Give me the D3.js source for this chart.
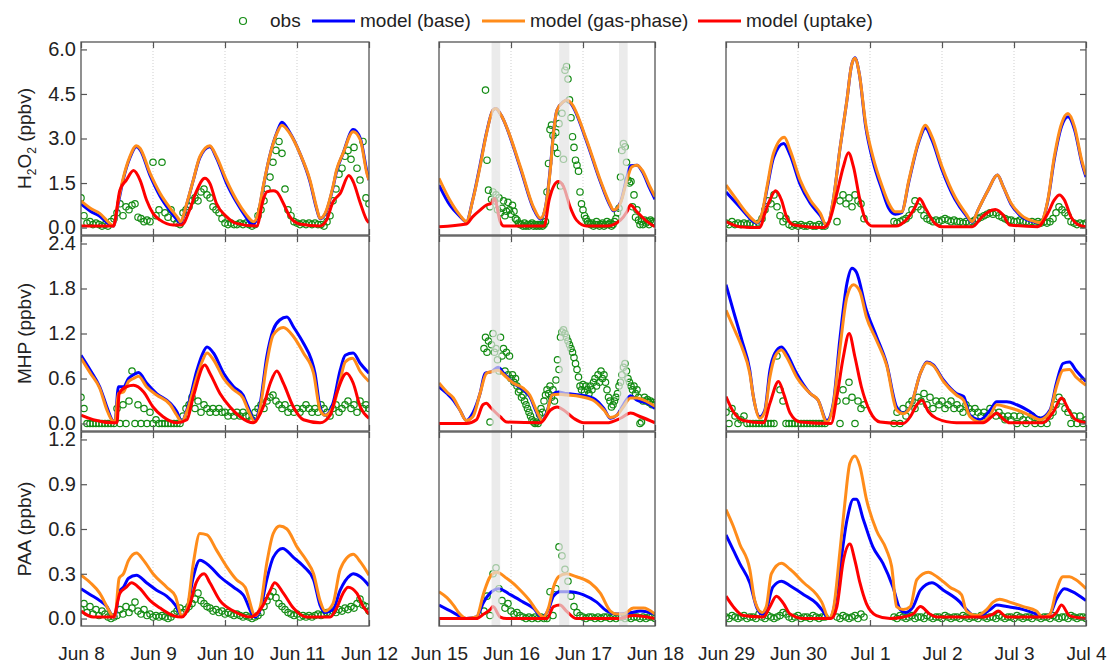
<!DOCTYPE html>
<html lang="en">
<head>
<meta charset="UTF-8">
<title>peroxides</title>
<script src="https://cdn.jsdelivr.net/npm/d3@7"></script>
<style>
	body { margin: 0; background: #fff; }
	text { font-family: Arial, "Liberation Sans", sans-serif; fill: #222; }
	.frame { fill: none; stroke: #555; stroke-width: 1.3px; }
	.grid line { stroke: #cfcfcf; stroke-dasharray: 1,2; }
	.axis line { stroke: #555; stroke-width: 1.2px; }
	.obs { fill: none; stroke: #148c14; stroke-width: 1.2px; }
	.model { fill: none; stroke-width: 3px; stroke-linejoin: round; }
</style>
</head>
<body>
<svg id="chart" width="1109" height="666"></svg>
<script>
// time is day-of-June (Jul 1 = 31); obs run from the first day of each window at a fixed step

const hour = 1 / 24, halfHour = 1 / 48;

const days_jun8 = [8, 9, 10, 11, 12];
const days_jun15 = [15, 16, 17, 18];
const days_jun29 = [29, 30, 31, 32, 33, 34];
const labels_jun8 = ["Jun 8", "Jun 9", "Jun 10", "Jun 11", "Jun 12"];
const labels_jun15 = ["Jun 15", "Jun 16", "Jun 17", "Jun 18"];
const labels_jun29 = ["Jun 29", "Jun 30", "Jul 1", "Jul 2", "Jul 3", "Jul 4"];

const h2o2Ticks = [0, 1.5, 3, 4.5, 6];
const mhpTicks = [0, 0.6, 1.2, 1.8, 2.4];
const paaTicks = [0, 0.3, 0.6, 0.9, 1.2];

const shadeBands = [[15.73, 15.85], [16.67, 16.81], [17.5, 17.62]];

// ---------- H2O2 ----------
const h2o2_base_jun8 = [[8.0,0.8],[8.13,0.55],[8.26,0.38],[8.4,0.1],[8.45,0.05],[8.52,0.85],[8.59,1.65],[8.68,2.35],[8.77,2.72],[8.82,2.62],[8.96,1.75],[9.1,1.05],[9.24,0.55],[9.35,0.22],[9.38,0.15],[9.47,0.8],[9.56,1.6],[9.65,2.35],[9.79,2.72],[9.88,2.35],[10.02,1.5],[10.16,0.85],[10.3,0.32],[10.37,0.1],[10.4,0.12],[10.46,0.45],[10.53,1.35],[10.62,2.4],[10.72,3.2],[10.79,3.55],[10.9,3.2],[11.04,2.5],[11.18,1.55],[11.27,0.65],[11.32,0.3],[11.39,0.45],[11.5,1.35],[11.55,1.9],[11.64,2.5],[11.78,3.3],[11.88,3.0],[11.97,1.9],[12.0,1.6]];
const h2o2_gas_jun8 = [[8.0,0.9],[8.13,0.65],[8.26,0.48],[8.4,0.14],[8.45,0.05],[8.52,0.93],[8.59,1.7],[8.68,2.4],[8.77,2.76],[8.82,2.67],[8.96,1.83],[9.1,1.15],[9.24,0.65],[9.35,0.31],[9.38,0.2],[9.47,0.82],[9.56,1.6],[9.65,2.39],[9.79,2.76],[9.88,2.4],[10.02,1.6],[10.16,0.93],[10.3,0.42],[10.37,0.23],[10.4,0.2],[10.46,0.48],[10.53,1.38],[10.62,2.39],[10.72,3.17],[10.79,3.45],[10.9,3.17],[11.04,2.5],[11.18,1.6],[11.27,0.7],[11.32,0.31],[11.39,0.48],[11.5,1.38],[11.55,1.94],[11.64,2.5],[11.78,3.23],[11.88,2.95],[11.97,1.83],[12.0,1.6]];
const h2o2_uptake_jun8 = [[8.0,0.05],[8.45,0.05],[8.54,1.26],[8.63,1.6],[8.73,1.92],[8.82,1.6],[8.91,0.93],[9.0,0.48],[9.1,0.25],[9.28,0.09],[9.4,0.09],[9.51,0.6],[9.6,1.2],[9.72,1.66],[9.79,1.49],[9.88,0.82],[10.02,0.37],[10.16,0.14],[10.44,0.05],[10.53,0.93],[10.58,1.2],[10.67,1.24],[10.72,1.2],[10.81,0.82],[10.9,0.37],[11.04,0.12],[11.32,0.05],[11.41,0.25],[11.5,0.87],[11.6,1.15],[11.72,1.75],[11.78,1.55],[11.88,0.82],[11.97,0.25],[12.0,0.16]];
const h2o2_obs_jun8 = [1.0,0.4,0.15,0.2,0.1,0.15, 0.1,0.05,0.1,0.05,0.2,0.3, 0.5,0.8,0.4,0.7,0.6,0.75, 0.8,0.35,0.3,0.2,0.25,0.2, 2.2,0.4,0.6,2.2,0.5,0.35, 0.6,0.3,0.15,0.1,0.5,0.6, 0.7,0.9,1.0,0.9,1.2,1.3, 1.1,1.0,0.7,0.6,0.5,0.3, 0.15,0.1,0.15,0.1,0.1,0.15, 0.1,0.15,0.1,0.05,0.1,0.4, 0.6,0.9,1.3,1.7,2.2,2.6, 2.9,2.5,1.3,0.6,0.4,0.2, 0.15,0.1,0.15,0.1,0.15,0.1, 0.15,0.1,0.1,0.05,0.2,0.4, 0.9,1.3,1.8,2.0,2.4,2.6, 2.3,2.7,2.0,1.6,2.9,1.0, 0.8];

const h2o2_base_jun15 = [[15.0,1.43],[15.15,0.76],[15.29,0.38],[15.38,0.2],[15.47,0.95],[15.57,2.1],[15.66,3.2],[15.75,3.96],[15.79,4.01],[15.85,3.84],[16.13,2.0],[16.31,0.65],[16.41,0.28],[16.48,0.7],[16.55,2.1],[16.59,3.2],[16.64,3.96],[16.73,4.24],[16.77,4.3],[16.84,4.15],[17.05,2.9],[17.24,1.55],[17.38,0.72],[17.42,0.57],[17.52,0.85],[17.61,1.7],[17.66,2.08],[17.75,2.1],[17.82,1.9],[17.93,1.3],[18.0,0.95]];
const h2o2_gas_jun15 = [[15.0,1.66],[15.15,0.93],[15.29,0.42],[15.38,0.2],[15.47,0.93],[15.57,2.05],[15.66,3.17],[15.75,3.96],[15.79,4.01],[15.85,3.84],[16.13,2.05],[16.31,0.7],[16.41,0.31],[16.48,0.7],[16.55,2.05],[16.59,3.17],[16.64,3.96],[16.73,4.24],[16.77,4.3],[16.84,4.18],[17.05,2.95],[17.24,1.6],[17.38,0.76],[17.42,0.59],[17.52,0.82],[17.61,1.6],[17.68,2.05],[17.75,2.1],[17.82,1.94],[17.93,1.38],[18.0,1.04]];
const h2o2_uptake_jun15 = [[15.0,0.03],[15.38,0.12],[15.47,0.37],[15.57,0.59],[15.66,0.76],[15.73,0.82],[15.77,0.98],[15.85,0.2],[15.9,0.05],[16.46,0.05],[16.53,0.93],[16.59,1.38],[16.66,1.55],[16.73,1.38],[16.82,0.7],[16.91,0.25],[17.05,0.05],[17.33,0.05],[17.52,0.25],[17.61,0.53],[17.66,0.76],[17.75,0.53],[17.89,0.2],[18.0,0.03]];
// half-hourly
const h2o2_obs_jun15 = [null,null,null,null,null,null,null,null,null,null, null,null,null,null,null,null,null,null,null,null, null,null,null,null,null,null,null,null,null,null, null,
	4.63,2.27,1.26,0.7,0.95,1.2,0.9,1.1,0.6,1.0,0.5,0.65,0.9,0.4,0.55,0.85,0.6,0.45,0.75,0.55,0.3,0.25,0.15,0.1,
	0.1,0.05,0.15,0.05,0.1,0.05,0.1,0.15,0.05,0.1,0.05,0.1,0.05,0.1,0.05,0.1,0.2,
	1.2,2.16,3.3,3.45,3.1,2.7,3.2,2.5,3.5,1.4,3.85,2.3,5.3,5.42,5.0,4.3,3.7,3.06,2.7,2.27,2.1,1.9,1.2,0.8,0.6,
	0.4,0.3,0.2,0.15,0.1,0.15,0.05,0.1,0.2,0.1,0.05,0.1,0.15,0.05,0.1,0.2,0.1,0.15,0.05,0.1,0.2,0.3,
	0.5,0.65,1.7,2.6,2.83,2.72,2.2,1.6,1.5,1.55,0.7,1.1,0.35,0.6,0.25,0.1,
	0.2,0.1,0.25,0.15,0.2,0.1,0.25,0.2,0.15,0.2];

const h2o2_base_jun29 = [[29.0,1.2],[29.15,0.8],[29.29,0.42],[29.38,0.2],[29.43,0.15],[29.5,0.45],[29.57,1.3],[29.66,2.35],[29.8,2.83],[29.89,2.45],[30.03,1.45],[30.17,0.82],[30.31,0.4],[30.4,0.05],[30.49,0.93],[30.58,2.61],[30.68,4.3],[30.74,5.42],[30.79,5.72],[30.85,5.2],[30.94,3.4],[31.04,2.25],[31.17,1.25],[31.26,0.65],[31.35,0.45],[31.44,0.5],[31.54,1.55],[31.68,2.9],[31.77,3.35],[31.86,2.95],[32.0,1.95],[32.18,0.95],[32.33,0.42],[32.42,0.18],[32.5,0.59],[32.64,1.26],[32.77,1.77],[32.85,1.38],[32.96,0.78],[33.1,0.38],[33.29,0.18],[33.36,0.15],[33.47,0.9],[33.56,2.3],[33.66,3.4],[33.75,3.73],[33.84,3.3],[33.94,2.2],[34.0,1.7]];
const h2o2_gas_jun29 = [[29.0,1.43],[29.15,0.93],[29.29,0.48],[29.38,0.25],[29.43,0.17],[29.5,0.48],[29.57,1.38],[29.66,2.5],[29.81,3.04],[29.89,2.61],[30.03,1.6],[30.17,0.93],[30.31,0.48],[30.4,0.05],[30.49,0.93],[30.58,2.61],[30.68,4.3],[30.74,5.42],[30.79,5.7],[30.85,5.2],[30.94,3.5],[31.04,2.39],[31.17,1.38],[31.26,0.82],[31.35,0.53],[31.44,0.53],[31.54,1.6],[31.68,2.95],[31.77,3.45],[31.86,3.06],[32.0,2.05],[32.18,1.04],[32.33,0.48],[32.42,0.2],[32.5,0.59],[32.64,1.26],[32.77,1.77],[32.85,1.38],[32.96,0.82],[33.1,0.42],[33.29,0.2],[33.36,0.17],[33.47,0.93],[33.56,2.39],[33.66,3.5],[33.75,3.84],[33.84,3.4],[33.94,2.27],[34.0,1.77]];
const h2o2_uptake_jun29 = [[29.0,0.2],[29.19,0.03],[29.47,0.0],[29.54,0.48],[29.61,0.93],[29.69,1.24],[29.77,0.93],[29.84,0.37],[29.94,0.09],[30.36,0.0],[30.44,0.25],[30.54,1.15],[30.63,2.05],[30.7,2.52],[30.77,2.05],[30.86,0.93],[30.94,0.25],[31.04,0.05],[31.36,0.05],[31.5,0.25],[31.63,0.7],[31.69,0.98],[31.77,0.65],[31.91,0.12],[32.0,0.03],[32.42,0.03],[32.56,0.37],[32.7,0.59],[32.74,0.61],[32.85,0.42],[32.94,0.09],[33.33,0.03],[33.47,0.48],[33.56,0.93],[33.63,1.1],[33.7,0.93],[33.79,0.37],[33.9,0.09],[34.0,0.03]];
const h2o2_obs_jun29 = [0.15,0.1,0.2,0.1,0.15,0.1,0.15,0.1,0.15,0.1,0.1,0.15, 0.3,0.6,0.9,0.8,1.1,0.7,0.4,0.2,0.3,0.1,0.05,0.1, 0.05,0.1,0.05,0.05,0.1,0.05,0.05,0.1,0.05,0.05,null,null, null,0.2,0.9,1.1,0.8,1.0,0.7,1.1,0.9,0.8,0.3,null, null,null,null,null,null,null,null,null,0.2,0.15,0.2,0.25, 0.3,0.4,0.6,0.9,0.7,0.6,0.4,0.3,0.25,0.2,0.25,0.2, 0.25,0.3,0.25,0.2,0.25,0.2,0.2,0.15,0.2,0.15,0.2,0.25, 0.3,0.35,0.4,0.45,0.5,0.45,0.5,0.4,0.35,0.3,0.25,0.25, 0.2,0.2,0.25,0.2,0.2,0.15,0.2,0.15,0.2,0.15,0.2,0.15, 0.2,0.3,0.5,0.7,0.6,0.5,0.4,0.2,0.15,0.1,0.15,0.1, 0.15];

// ---------- MHP ----------
const mhp_base_jun8 = [[8.0,0.91],[8.13,0.71],[8.26,0.49],[8.36,0.22],[8.43,0.05],[8.47,0.01],[8.52,0.49],[8.59,0.49],[8.66,0.6],[8.73,0.65],[8.8,0.68],[8.91,0.54],[9.05,0.4],[9.24,0.27],[9.33,0.16],[9.4,0.02],[9.47,0.18],[9.61,0.71],[9.68,0.91],[9.75,1.02],[9.84,0.94],[9.98,0.67],[10.12,0.49],[10.25,0.38],[10.32,0.22],[10.42,0.04],[10.49,0.27],[10.58,0.89],[10.67,1.25],[10.76,1.38],[10.86,1.42],[10.95,1.29],[11.09,1.07],[11.2,0.85],[11.25,0.67],[11.32,0.22],[11.39,0.11],[11.5,0.27],[11.6,0.71],[11.67,0.91],[11.78,0.94],[11.88,0.8],[12.0,0.67]];
const mhp_gas_jun8 = [[8.0,0.87],[8.13,0.67],[8.26,0.47],[8.36,0.18],[8.43,0.04],[8.47,0.01],[8.52,0.4],[8.59,0.42],[8.66,0.56],[8.73,0.6],[8.8,0.63],[8.91,0.49],[9.05,0.38],[9.24,0.25],[9.33,0.11],[9.4,0.02],[9.47,0.16],[9.61,0.62],[9.68,0.82],[9.75,0.94],[9.84,0.85],[9.98,0.6],[10.12,0.45],[10.25,0.34],[10.32,0.18],[10.42,0.02],[10.49,0.22],[10.58,0.8],[10.67,1.18],[10.81,1.28],[10.95,1.16],[11.09,0.94],[11.23,0.67],[11.32,0.18],[11.39,0.11],[11.5,0.22],[11.6,0.58],[11.67,0.82],[11.77,0.87],[11.88,0.69],[12.0,0.56]];
const mhp_uptake_jun8 = [[8.0,0.11],[8.17,0.05],[8.45,0.01],[8.5,0.01],[8.53,0.4],[8.63,0.49],[8.73,0.51],[8.87,0.42],[9.0,0.22],[9.14,0.09],[9.33,0.01],[9.47,0.05],[9.56,0.36],[9.72,0.78],[9.79,0.67],[9.93,0.4],[10.07,0.22],[10.21,0.09],[10.39,0.01],[10.53,0.22],[10.63,0.54],[10.72,0.7],[10.81,0.54],[10.95,0.22],[11.09,0.05],[11.32,0.01],[11.46,0.11],[11.55,0.4],[11.69,0.67],[11.78,0.54],[11.88,0.22],[12.0,0.07]];
const mhp_obs_jun8 = [0.35,0.2,0,0,0,0,0,0,0,0,0,0, 0.2,0,0.25,0,0.3,0.7,0,0.25,0,0.2,0,0.15, 0,0.05,0,0,0,0,0,0,0,0,0.1,0.2, 0.25,0.35,0.2,0.3,0.15,0.25,0.2,0.15,0.2,0.15,0.2,0.15, 0.15,0.1,0.15,0.1,0.15,0.1,0.15,0.1,0.1,0.05,0.15,0.2, 0.25,0.2,0.3,0.35,0.38,0.3,0.25,0.2,0.25,0.15,0.2,0.15, 0.2,0.15,0.2,0.25,0.2,0.15,0.2,0.15,0.25,0.2,0.15,0.1, 0.2,0.25,0.15,0.2,0.25,0.3,0.2,0.25,0.15,0.3,0.2,0.25,0.2];

const mhp_base_jun15 = [[15.0,0.49],[15.11,0.4],[15.2,0.31],[15.29,0.18],[15.38,0.04],[15.47,0.14],[15.57,0.4],[15.64,0.67],[15.73,0.69],[15.82,0.75],[15.9,0.67],[16.03,0.54],[16.17,0.45],[16.26,0.36],[16.36,0.14],[16.43,0.04],[16.5,0.16],[16.57,0.38],[16.66,0.42],[16.77,0.4],[16.96,0.38],[17.14,0.34],[17.29,0.2],[17.38,0.07],[17.47,0.11],[17.56,0.25],[17.66,0.37],[17.75,0.31],[17.89,0.27],[18.0,0.2]];
const mhp_gas_jun15 = [[15.0,0.54],[15.11,0.42],[15.2,0.34],[15.29,0.18],[15.38,0.04],[15.47,0.09],[15.57,0.4],[15.66,0.67],[15.73,0.69],[15.82,0.71],[15.9,0.65],[16.03,0.54],[16.17,0.47],[16.26,0.38],[16.36,0.16],[16.43,0.04],[16.5,0.14],[16.57,0.38],[16.66,0.39],[16.77,0.38],[16.96,0.36],[17.14,0.31],[17.29,0.18],[17.38,0.08],[17.47,0.11],[17.56,0.22],[17.66,0.34],[17.75,0.34],[17.89,0.29],[18.0,0.23]];
const mhp_uptake_jun15 = [[15.0,0.0],[15.38,0.0],[15.52,0.05],[15.61,0.25],[15.66,0.27],[15.71,0.22],[15.85,0.09],[15.94,0.02],[16.41,0.01],[16.55,0.18],[16.64,0.22],[16.73,0.18],[16.87,0.07],[17.01,0.01],[17.33,0.01],[17.52,0.07],[17.66,0.14],[17.8,0.09],[18.0,0.01]];
// half-hourly
const mhp_obs_jun15 = [null,null,null,null,null,null,null,null,null,null, null,null,null,null,null,null,null,null,null,null, null,null,null,null,null,null,null,null,null,null,
	1.0,1.15,0.95,1.1,0.02,1.05,1.2,0.95,1.0,0.85,0.7,1.15,0.9,1.0,0.7,0.95,0.65,0.9,
	0.6,0.65,0.55,0.6,0.5,0.42,0.45,0.35,0.38,0.3,0.25,0.2,0.15,0.1,0.05,0.02,0.0,0.02,0.0,0.12,0.2,0.15,0.3,0.38,
	0.45,0.4,0.5,0.35,0.45,0.3,0.58,0.85,0.72,1.15,1.22,1.25,1.2,1.15,1.1,1.05,1.0,0.95,0.88,0.8,0.72,0.62,0.5,0.45,
	0.52,0.42,0.5,0.45,0.4,0.5,0.45,0.55,0.6,0.5,0.65,0.55,0.7,0.6,0.65,0.55,0.45,0.35,0.3,0.22,0.25,0.3,0.35,0.4,
	0.5,0.55,0.65,0.75,0.8,0.7,0.6,0.55,0.5,0.45,0.5,0.4,0.45,0.35,0.0,0.02,0.3,0.35,0.3,0.32,0.28,0.3,0.25,0.28,
	0.25];

const mhp_base_jun29 = [[29.0,1.85],[29.1,1.51],[29.22,1.11],[29.33,0.71],[29.38,0.36],[29.47,0.09],[29.54,0.18],[29.61,0.71],[29.68,0.94],[29.77,1.02],[29.84,0.94],[29.98,0.67],[30.17,0.4],[30.28,0.31],[30.4,0.04],[30.49,0.27],[30.58,1.11],[30.68,1.87],[30.75,2.07],[30.81,2.02],[30.95,1.51],[31.09,1.16],[31.23,0.8],[31.37,0.22],[31.46,0.14],[31.56,0.22],[31.7,0.67],[31.79,0.82],[31.88,0.78],[32.02,0.58],[32.2,0.4],[32.3,0.36],[32.39,0.11],[32.53,0.05],[32.67,0.18],[32.76,0.29],[32.9,0.29],[33.04,0.25],[33.22,0.16],[33.36,0.07],[33.5,0.18],[33.59,0.54],[33.68,0.8],[33.77,0.82],[33.86,0.71],[34.0,0.56]];
const mhp_gas_jun29 = [[29.0,1.51],[29.1,1.29],[29.22,1.02],[29.33,0.67],[29.38,0.36],[29.47,0.07],[29.54,0.16],[29.61,0.62],[29.68,0.89],[29.77,0.98],[29.84,0.89],[29.98,0.62],[30.17,0.4],[30.28,0.31],[30.4,0.02],[30.49,0.25],[30.58,0.98],[30.68,1.69],[30.77,1.85],[30.86,1.76],[30.95,1.42],[31.09,1.11],[31.23,0.78],[31.37,0.18],[31.46,0.13],[31.56,0.22],[31.7,0.67],[31.79,0.81],[31.88,0.77],[32.02,0.56],[32.2,0.38],[32.3,0.31],[32.39,0.09],[32.53,0.02],[32.67,0.11],[32.76,0.25],[32.9,0.22],[33.04,0.18],[33.22,0.11],[33.36,0.05],[33.5,0.16],[33.59,0.49],[33.68,0.71],[33.77,0.72],[33.86,0.62],[34.0,0.51]];
const mhp_uptake_jun29 = [[29.0,0.36],[29.1,0.16],[29.24,0.04],[29.52,0.01],[29.61,0.27],[29.73,0.56],[29.8,0.4],[29.89,0.14],[30.03,0.02],[30.46,0.0],[30.54,0.36],[30.63,0.89],[30.71,1.2],[30.79,0.89],[30.88,0.49],[31.0,0.16],[31.14,0.02],[31.46,0.0],[31.56,0.09],[31.65,0.25],[31.72,0.31],[31.81,0.16],[31.92,0.07],[32.2,0.01],[32.57,0.01],[32.69,0.09],[32.76,0.14],[32.85,0.06],[32.94,0.01],[33.4,0.01],[33.55,0.16],[33.66,0.34],[33.77,0.16],[33.86,0.05],[34.0,0.01]];
const mhp_obs_jun29 = [0.15,0,0.2,0.1,0,0.05,0.1,0,0,0,0,0, 0,0,0,0,0,0.9,0.45,0.3,0,0,0,0, 0,0,0,0,0,0,0,0,0,0,null,null, null,0.3,0.0,0.45,0.3,0.55,0.35,0.0,0.3,0.2,0.25,null, null,null,null,null,null,null,null,null,0.0,0.15,0.0,0.2, 0.1,0.25,0.3,0.2,0.35,0.3,0.4,0.25,0.35,0.2,0.3,0.25, 0.3,0.2,0.25,0.3,0.2,0.25,0.2,0.15,0.25,0.2,0.15,0.2, 0.15,0.1,0.15,0.1,0.2,0.15,0.1,0.15,0.1,0.05,0.1,0.05, 0.1,0.0,0.1,0.05,0.0,0.05,0.1,0.0,0.05,0.0,0.05,0.0, 0.1,0.15,0.25,0.35,0.3,0.2,0.15,0.0,0.1,0.0,0.1,0.0, 0.05];

// ---------- PAA ----------
const paa_base_jun8 = [[8.0,0.2],[8.13,0.16],[8.26,0.12],[8.36,0.08],[8.43,0.02],[8.47,0.01],[8.53,0.18],[8.59,0.21],[8.66,0.27],[8.77,0.29],[8.91,0.24],[9.05,0.19],[9.19,0.15],[9.31,0.09],[9.4,0.02],[9.47,0.06],[9.56,0.28],[9.65,0.39],[9.79,0.35],[9.93,0.28],[10.12,0.21],[10.25,0.16],[10.42,0.01],[10.49,0.06],[10.58,0.26],[10.67,0.41],[10.8,0.47],[10.95,0.41],[11.09,0.35],[11.23,0.26],[11.32,0.09],[11.39,0.04],[11.5,0.06],[11.6,0.19],[11.74,0.29],[11.78,0.3],[11.88,0.28],[12.0,0.22]];
const paa_gas_jun8 = [[8.0,0.29],[8.13,0.24],[8.26,0.17],[8.36,0.08],[8.43,0.02],[8.47,0.01],[8.53,0.27],[8.59,0.3],[8.66,0.39],[8.77,0.44],[8.87,0.39],[9.0,0.3],[9.19,0.21],[9.31,0.15],[9.4,0.02],[9.47,0.06],[9.56,0.37],[9.65,0.57],[9.75,0.56],[9.88,0.46],[10.02,0.35],[10.16,0.26],[10.28,0.21],[10.42,0.02],[10.49,0.08],[10.58,0.37],[10.67,0.57],[10.76,0.62],[10.86,0.6],[11.0,0.48],[11.13,0.39],[11.23,0.3],[11.32,0.12],[11.39,0.05],[11.5,0.1],[11.6,0.33],[11.78,0.43],[11.88,0.38],[12.0,0.29]];
const paa_uptake_jun8 = [[8.0,0.05],[8.17,0.01],[8.45,0.01],[8.54,0.17],[8.63,0.21],[8.7,0.24],[8.82,0.2],[8.96,0.12],[9.1,0.07],[9.28,0.02],[9.4,0.01],[9.51,0.09],[9.6,0.24],[9.71,0.3],[9.79,0.24],[9.93,0.12],[10.12,0.05],[10.35,0.01],[10.53,0.09],[10.63,0.19],[10.69,0.24],[10.81,0.17],[10.95,0.07],[11.13,0.01],[11.46,0.01],[11.55,0.07],[11.64,0.17],[11.71,0.21],[11.83,0.17],[11.92,0.08],[12.0,0.03]];
const paa_obs_jun8 = [0.06,0.1,0.04,0.08,0.03,0.06,0.02,0.05,0.03,0.01,0.0,0.01, 0.02,0.06,0.03,0.08,0.04,0.07,0.11,0.05,0.03,0.06,0.02,0.03, 0.01,0.02,0.01,0.02,0.01,0.0,0.01,0.03,0.05,0.07,0.04,0.06, 0.08,0.1,0.13,0.17,0.12,0.1,0.08,0.07,0.05,0.06,0.04,0.05, 0.03,0.04,0.03,0.02,0.03,0.02,0.01,0.02,0.01,0.0,0.01,0.02, 0.04,0.08,0.12,0.15,0.18,0.14,0.1,0.08,0.06,0.04,0.03,0.02, 0.03,0.01,0.02,0.01,0.02,0.01,0.02,0.03,0.02,0.03,0.04,0.03, 0.05,0.04,0.06,0.05,0.07,0.06,0.08,0.07,0.1,0.13,0.09,0.08,0.05];

const paa_base_jun15 = [[15.0,0.09],[15.2,0.04],[15.38,0.0],[15.52,0.01],[15.62,0.11],[15.71,0.17],[15.83,0.2],[15.99,0.16],[16.17,0.11],[16.31,0.07],[16.43,0.01],[16.52,0.06],[16.59,0.15],[16.68,0.18],[16.82,0.18],[17.0,0.16],[17.19,0.11],[17.33,0.05],[17.47,0.03],[17.66,0.04],[17.8,0.05],[18.0,0.03]];
const paa_gas_jun15 = [[15.0,0.18],[15.11,0.14],[15.2,0.09],[15.29,0.03],[15.38,0.0],[15.52,0.01],[15.62,0.17],[15.71,0.28],[15.8,0.31],[15.94,0.27],[16.13,0.19],[16.26,0.12],[16.36,0.05],[16.45,0.01],[16.52,0.07],[16.59,0.21],[16.66,0.28],[16.77,0.3],[16.91,0.28],[17.1,0.24],[17.24,0.17],[17.38,0.05],[17.47,0.03],[17.56,0.03],[17.7,0.07],[17.84,0.07],[18.0,0.03]];
const paa_uptake_jun15 = [[15.0,0.0],[15.52,0.0],[15.62,0.03],[15.71,0.06],[15.75,0.08],[15.85,0.01],[15.94,0.0],[16.5,0.0],[16.59,0.08],[16.68,0.09],[16.77,0.05],[16.91,0.0],[17.5,0.0],[17.7,0.02],[18.0,0.0]];
const paa_obs_jun15 = [null,null,null,null,null,null,null,null,null,null,null,null,null,null,null, 0.05,0.15,0.02,0.3,0.34,0.2,0.12,0.07,0.1,0.05,0.03,0.04, 0.02,0.01,0.0,0.01,0.0,0.01,0.0,0.01,0.0,0.0,0.18,0.02, 0.2,0.48,0.42,0.33,0.25,0.15,0.08,0.04,0.02,0.01,0.0,0.01, 0.01,0.0,0.01,0.0,0.01,0.01,0.0,0.01,0.0,0.01,0.01,0.0, 0.01,0.0,0.01,0.01,0.0,0.01,0.0,0.01,0.01,0.0];

const paa_base_jun29 = [[29.0,0.56],[29.1,0.46],[29.19,0.37],[29.33,0.24],[29.43,0.07],[29.5,0.03],[29.56,0.06],[29.65,0.21],[29.77,0.25],[29.89,0.22],[30.08,0.16],[30.26,0.1],[30.33,0.06],[30.43,0.0],[30.49,0.05],[30.58,0.33],[30.68,0.66],[30.77,0.8],[30.81,0.8],[30.91,0.66],[31.04,0.48],[31.18,0.37],[31.32,0.21],[31.42,0.06],[31.49,0.04],[31.6,0.08],[31.7,0.19],[31.86,0.24],[32.02,0.19],[32.25,0.11],[32.34,0.06],[32.48,0.01],[32.67,0.06],[32.76,0.09],[32.9,0.08],[33.13,0.06],[33.31,0.03],[33.4,0.01],[33.5,0.03],[33.59,0.13],[33.7,0.2],[33.81,0.18],[34.0,0.12]];
const paa_gas_jun29 = [[29.0,0.73],[29.1,0.62],[29.19,0.5],[29.33,0.33],[29.4,0.12],[29.5,0.04],[29.56,0.08],[29.63,0.3],[29.77,0.37],[29.89,0.33],[30.08,0.24],[30.26,0.16],[30.33,0.11],[30.43,0.0],[30.49,0.06],[30.58,0.44],[30.65,0.77],[30.72,1.04],[30.79,1.09],[30.86,1.02],[30.95,0.8],[31.09,0.59],[31.23,0.46],[31.3,0.35],[31.37,0.08],[31.46,0.06],[31.56,0.08],[31.65,0.26],[31.81,0.31],[31.93,0.28],[32.11,0.21],[32.27,0.16],[32.34,0.05],[32.48,0.02],[32.62,0.06],[32.71,0.11],[32.8,0.13],[32.94,0.11],[33.13,0.08],[33.31,0.05],[33.4,0.01],[33.5,0.03],[33.59,0.19],[33.68,0.28],[33.77,0.28],[33.86,0.26],[34.0,0.2]];
const paa_uptake_jun29 = [[29.0,0.15],[29.1,0.08],[29.24,0.02],[29.52,0.01],[29.61,0.08],[29.7,0.15],[29.8,0.1],[29.89,0.03],[30.08,0.0],[30.46,0.0],[30.54,0.08],[30.63,0.39],[30.72,0.5],[30.79,0.39],[30.86,0.24],[30.95,0.1],[31.09,0.02],[31.28,0.0],[31.46,0.01],[31.6,0.03],[31.7,0.08],[31.83,0.03],[31.93,0.01],[32.57,0.01],[32.71,0.03],[32.78,0.05],[32.9,0.01],[33.5,0.01],[33.59,0.04],[33.66,0.09],[33.77,0.02],[34.0,0.0]];
const paa_obs_jun29 = [0.01,0.0,0.02,0.01,0.0,0.01,0.02,0.0,0.01,0.01,0.0,0.03, 0.01,0.0,0.02,0.01,0.0,0.01,0.02,0.04,0.03,0.01,0.0,0.01, 0.02,0.0,0.01,0.01,0.0,0.02,0.01,0.0,0.01,0.01,null,null, null,0.01,0.0,0.02,0.01,0.0,0.01,0.02,0.0,0.03,0.01,null, null,null,null,null,null,null,null,null,0.01,0.0,0.02,0.01, 0.0,0.01,0.02,0.0,0.01,0.01,0.0,0.02,0.01,0.0,0.01,0.01, 0.0,0.02,0.01,0.0,0.01,0.01,0.0,0.02,0.01,0.0,0.01,0.01, 0.0,0.02,0.01,0.0,0.01,0.01,0.0,0.02,0.01,0.0,0.01,0.01, 0.0,0.02,0.01,0.0,0.01,0.01,0.0,0.02,0.01,0.0,0.01,0.01, 0.0,0.02,0.01,0.0,0.01,0.01,0.0,0.02,0.01,0.0,0.01,0.01, 0.0];

// ---------- layout ----------
const colors = { base: "#0000ff", gas: "#ff8c1a", uptake: "#ff0000" };

const columns = [
	{ days: days_jun8, labels: labels_jun8, x0: 81, x1: 369, yLabels: true },
	{ days: days_jun15, labels: labels_jun15, x0: 439, x1: 655, shade: true },
	{ days: days_jun29, labels: labels_jun29, x0: 726, x1: 1086, rightTicks: true }
];

// each set: obs, obs step, base, gas-phase, uptake
const rows = [
	{ title: ["H", "2", "O", "2", " (ppbv)"], y0: 42, y1: 235, domain: [-0.25, 6.25], ticks: h2o2Ticks,
	  sets: [[h2o2_obs_jun8, hour, h2o2_base_jun8, h2o2_gas_jun8, h2o2_uptake_jun8],
	         [h2o2_obs_jun15, halfHour, h2o2_base_jun15, h2o2_gas_jun15, h2o2_uptake_jun15],
	         [h2o2_obs_jun29, hour, h2o2_base_jun29, h2o2_gas_jun29, h2o2_uptake_jun29]] },
	{ title: ["MHP (ppbv)"], y0: 236, y1: 431, domain: [-0.1, 2.5], ticks: mhpTicks,
	  sets: [[mhp_obs_jun8, hour, mhp_base_jun8, mhp_gas_jun8, mhp_uptake_jun8],
	         [mhp_obs_jun15, halfHour, mhp_base_jun15, mhp_gas_jun15, mhp_uptake_jun15],
	         [mhp_obs_jun29, hour, mhp_base_jun29, mhp_gas_jun29, mhp_uptake_jun29]] },
	{ title: ["PAA (ppbv)"], y0: 432, y1: 626, domain: [-0.05, 1.25], ticks: paaTicks,
	  sets: [[paa_obs_jun8, hour, paa_base_jun8, paa_gas_jun8, paa_uptake_jun8],
	         [paa_obs_jun15, hour, paa_base_jun15, paa_gas_jun15, paa_uptake_jun15],
	         [paa_obs_jun29, hour, paa_base_jun29, paa_gas_jun29, paa_uptake_jun29]] }
];

var svg = d3.select('#chart');
var defs = svg.append('defs');

rows.forEach(function (row, ri) {
	var y = d3.scaleLinear().domain(row.domain).range([row.y1, row.y0]);

	columns.forEach(function (col, ci) {
		var d0 = col.days[0], d1 = col.days[col.days.length - 1];
		var x = d3.scaleLinear().domain([d0, d1]).range([col.x0, col.x1]);
		var set = row.sets[ci];
		var clipId = 'clip' + ri + ci;

		defs.append('clipPath').attr('id', clipId)
			.append('rect')
			.attr('x', col.x0).attr('y', row.y0)
			.attr('width', col.x1 - col.x0).attr('height', row.y1 - row.y0);

		var g = svg.append('g');

		// dotted day grid
		g.append('g').attr('class', 'grid')
			.selectAll('line').data(col.days.slice(1, -1)).enter().append('line')
			.attr('x1', d => x(d)).attr('x2', d => x(d))
			.attr('y1', row.y0).attr('y2', row.y1);

		var plot = g.append('g').attr('clip-path', 'url(#' + clipId + ')');

		var obs = set[0].map((v, i) => [d0 + i * set[1], v]).filter(d => d[1] !== null);
		plot.selectAll('circle').data(obs).enter().append('circle')
			.attr('class', 'obs')
			.attr('cx', d => x(d[0])).attr('cy', d => y(d[1]))
			.attr('r', 3.2);

		var line = d3.line().x(d => x(d[0])).y(d => y(d[1])).curve(d3.curveMonotoneX);
		[['base', set[2]], ['gas', set[3]], ['uptake', set[4]]].forEach(function (s) {
			plot.append('path').datum(s[1])
				.attr('class', 'model')
				.attr('stroke', colors[s[0]])
				.attr('d', line);
		});

		// gray periods laid over the data
		if (col.shade) {
			g.selectAll('rect.band').data(shadeBands).enter().append('rect')
				.attr('class', 'band')
				.attr('x', d => x(d[0])).attr('width', d => x(d[1]) - x(d[0]))
				.attr('y', row.y0).attr('height', row.y1 - row.y0)
				.attr('fill', '#e2e2e2').attr('opacity', 0.7);
		}

		// inward day ticks, top and bottom
		g.append('g').attr('class', 'axis')
			.attr('transform', 'translate(0,' + row.y0 + ')')
			.call(d3.axisTop(x).tickValues(col.days).tickSize(-6).tickFormat(''))
			.call(a => a.select('.domain').remove());

		var bottom = d3.axisBottom(x).tickValues(col.days).tickSize(-6).tickPadding(21);
		if (ri === rows.length - 1) {
			bottom.tickFormat((d, i) => col.labels[i]);
		} else {
			bottom.tickFormat('');
		}
		var bx = g.append('g').attr('class', 'axis')
			.attr('transform', 'translate(0,' + row.y1 + ')')
			.call(bottom)
			.call(a => a.select('.domain').remove());
		bx.selectAll('text').style('font-size', '19px').attr('fill', '#222');

		if (col.yLabels) {
			var ly = g.append('g').attr('class', 'axis')
				.attr('transform', 'translate(' + col.x0 + ',0)')
				.call(d3.axisLeft(y).tickValues(row.ticks).tickSize(-6).tickPadding(5).tickFormat(d3.format('.1f')))
				.call(a => a.select('.domain').remove());
			ly.selectAll('text').style('font-size', '20px').attr('fill', '#222');
		}
		if (col.rightTicks) {
			g.append('g').attr('class', 'axis')
				.attr('transform', 'translate(' + col.x1 + ',0)')
				.call(d3.axisRight(y).tickValues(row.ticks).tickSize(-6).tickFormat(''))
				.call(a => a.select('.domain').remove());
		}

		g.append('rect').attr('class', 'frame')
			.attr('x', col.x0).attr('y', row.y0)
			.attr('width', col.x1 - col.x0).attr('height', row.y1 - row.y0);
	});

	// y title
	var cy = (row.y0 + row.y1) / 2;
	var t = svg.append('text')
		.attr('transform', 'translate(31,' + cy + ') rotate(-90)')
		.attr('text-anchor', 'middle')
		.style('font-size', '19px');
	row.title.forEach(function (part, i) {
		var sub = row.title.length > 1 && (i === 1 || i === 3);
		var ts = t.append('tspan').text(part);
		if (sub) ts.attr('dy', 5).style('font-size', '12px');
		else if (i > 0) ts.attr('dy', -5);
	});
});

// legend
var legend = svg.append('g').style('font-size', '19px');
legend.append('circle').attr('class', 'obs').attr('cx', 243).attr('cy', 21).attr('r', 3.5);
legend.append('text').attr('x', 270).attr('y', 27).text('obs');
[
	['base', 312, 'model (base)'],
	['gas', 482, 'model (gas-phase)'],
	['uptake', 698, 'model (uptake)']
].forEach(function (item) {
	legend.append('line')
		.attr('x1', item[1]).attr('x2', item[1] + 43)
		.attr('y1', 21).attr('y2', 21)
		.attr('stroke', colors[item[0]]).attr('stroke-width', 3);
	legend.append('text').attr('x', item[1] + 48).attr('y', 27).text(item[2]);
});
</script>
</body>
</html>
